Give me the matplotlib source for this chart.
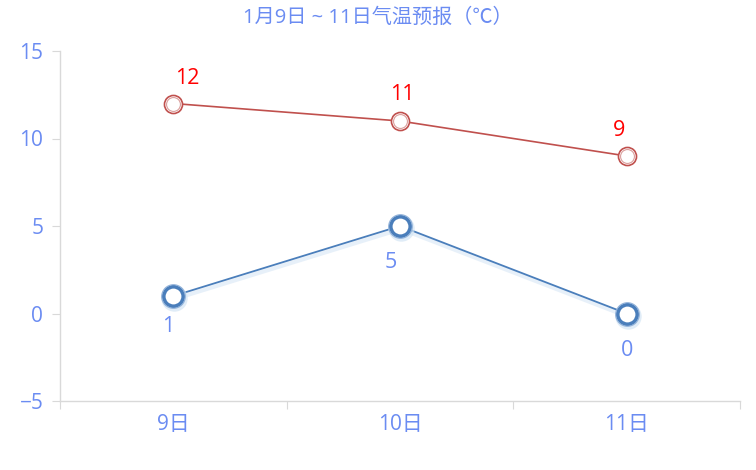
import matplotlib
matplotlib.use("Agg")
import matplotlib.pyplot as plt
import matplotlib.transforms as mtrans

plt.rcParams['font.family'] = ['Open Sans', 'Noto Sans CJK SC', 'DejaVu Sans']

# data
days = ["9日", "10日", "11日"]
high_temps = [12, 11, 9]
low_temps = [1, 5, 0]
title = "1月9日 ~ 11日气温预报（℃）"

label_blue = "#6b8cf2"
red_line = "#c0504d"
blue_line = "#4a7ebb"
grid_grey = "#d9d9d9"

fig = plt.figure(figsize=(7.56, 4.7), dpi=100)
ax = fig.add_axes([60 / 756, 1 - 401 / 470, 680 / 756, 350 / 470])

x = list(range(len(days)))

def shifted(dx, dy):
    return ax.transData + mtrans.ScaledTranslation(dx / 100, dy / 100, fig.dpi_scale_trans)

# low temps: soft shadow under line, then line + markers with glow
ax.plot(x, low_temps, color="#bcd6ee", lw=3, alpha=0.35, zorder=2, transform=shifted(1, -3))
ax.plot(x, low_temps, color=blue_line, lw=1.3, zorder=3)
ax.plot(x, low_temps, ls="none", marker="o", ms=19, mfc="#d3e5f4", mec="none", alpha=0.7, zorder=3,
        transform=shifted(1, -2))
ax.plot(x, low_temps, ls="none", marker="o", ms=14, mfc="white", mec=blue_line, mew=2.6, zorder=4)
ax.plot(x, low_temps, ls="none", marker="o", ms=17, mfc="none", mec="#8fb0d8", mew=0.8, zorder=4)

# high temps
ax.plot(x, high_temps, color=red_line, lw=1.2, zorder=3)
ax.plot(x, high_temps, ls="none", marker="o", ms=13, mfc="white", mec=red_line, mew=1.2, zorder=4)
ax.plot(x, high_temps, ls="none", marker="o", ms=10, mfc="none", mec="#dba09e", mew=0.8, zorder=4)

# value label offsets in pixels
high_off = [(14, 25), (2, 27), (-8, 26)]
low_off = [(-5, -30), (-9, -37), (0, -37)]
for i, v in enumerate(high_temps):
    ax.annotate(str(v), (x[i], v), xytext=(high_off[i][0] * 0.72, high_off[i][1] * 0.72),
                textcoords="offset points", ha="center", va="center",
                color="#ff0000", fontsize=15.5, zorder=5)
for i, v in enumerate(low_temps):
    ax.annotate(str(v), (x[i], v), xytext=(low_off[i][0] * 0.72, low_off[i][1] * 0.72),
                textcoords="offset points", ha="center", va="center",
                color=label_blue, fontsize=15.5, zorder=5)

ax.set_xlim(-0.5, 2.5)
ax.set_ylim(-5, 15)
ax.set_yticks([-5, 0, 5, 10, 15])
ax.set_xticks([-0.5, 0.5, 1.5, 2.5])
ax.set_xticklabels([])
ax.set_xticks(x, minor=True)
ax.set_xticklabels(days, minor=True)
ax.tick_params(axis="x", which="major", length=6, color=grid_grey, direction="out")
ax.tick_params(axis="x", which="minor", length=0, pad=9, labelsize=15, labelcolor=label_blue)
ax.tick_params(axis="y", length=6, color=grid_grey, labelsize=15, labelcolor=label_blue, pad=6)

for side in ["top", "right"]:
    ax.spines[side].set_visible(False)
for side in ["left", "bottom"]:
    ax.spines[side].set_color(grid_grey)
    ax.spines[side].set_linewidth(1)

fig.text(0.5, 1 - 18 / 470, title, ha="center", va="center", color=label_blue, fontsize=14.5)

fig.savefig("out.png", dpi=100)
